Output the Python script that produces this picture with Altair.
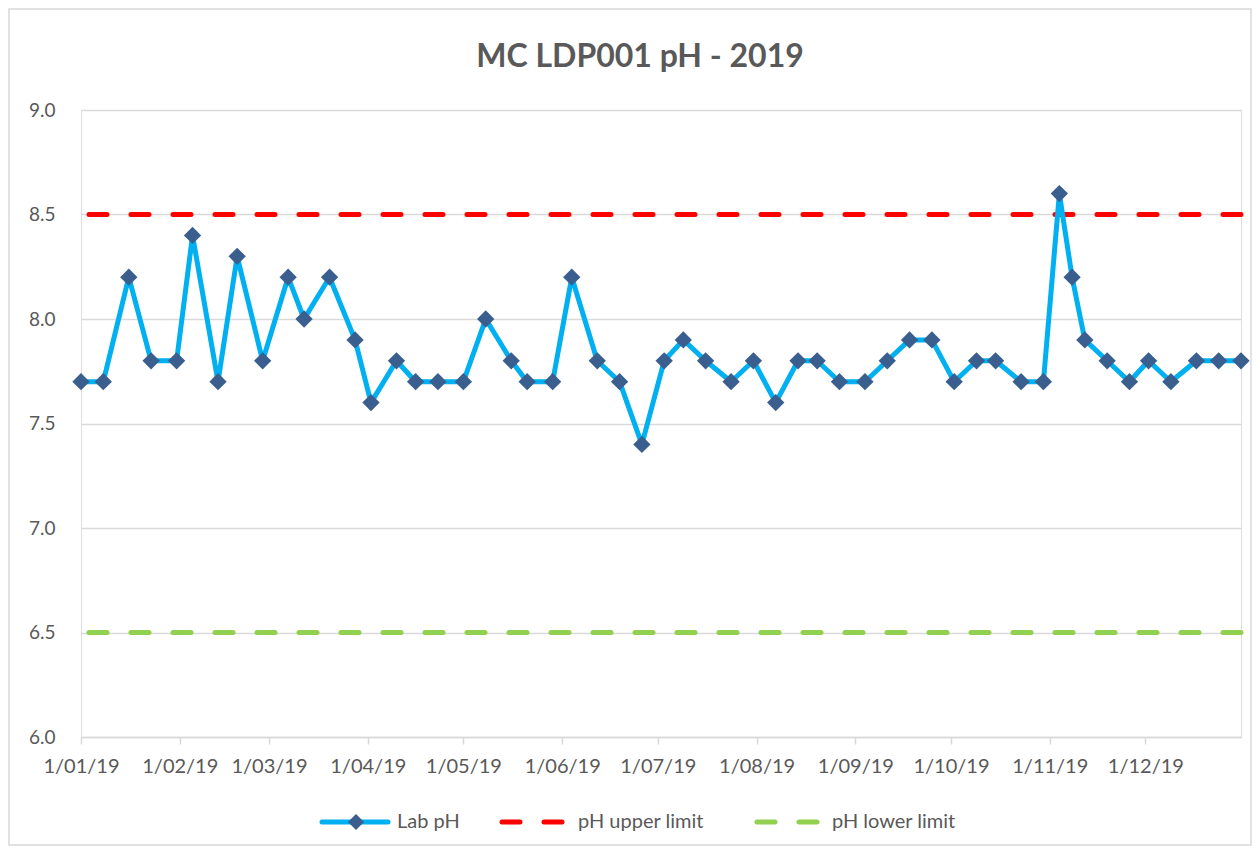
import altair as alt
import pandas as pd

# ---- data ----
sample_dates = [
    "2019-01-01", "2019-01-08", "2019-01-16", "2019-01-23", "2019-01-31",
    "2019-02-05", "2019-02-13", "2019-02-19", "2019-02-27", "2019-03-07",
    "2019-03-12", "2019-03-20", "2019-03-28", "2019-04-02", "2019-04-10",
    "2019-04-16", "2019-04-23", "2019-05-01", "2019-05-08", "2019-05-16",
    "2019-05-21", "2019-05-29", "2019-06-04", "2019-06-12", "2019-06-19",
    "2019-06-26", "2019-07-03", "2019-07-09", "2019-07-16", "2019-07-24",
    "2019-07-31", "2019-08-07", "2019-08-14", "2019-08-20", "2019-08-27",
    "2019-09-04", "2019-09-11", "2019-09-18", "2019-09-25", "2019-10-02",
    "2019-10-09", "2019-10-15", "2019-10-23", "2019-10-30", "2019-11-04",
    "2019-11-08", "2019-11-12", "2019-11-19", "2019-11-26", "2019-12-02",
    "2019-12-09", "2019-12-17", "2019-12-24", "2019-12-31",
]
lab_ph = [
    7.7, 7.7, 8.2, 7.8, 7.8, 8.4, 7.7, 8.3, 7.8, 8.2,
    8.0, 8.2, 7.9, 7.6, 7.8, 7.7, 7.7, 7.7, 8.0, 7.8,
    7.7, 7.7, 8.2, 7.8, 7.7, 7.4, 7.8, 7.9, 7.8, 7.7,
    7.8, 7.6, 7.8, 7.8, 7.7, 7.7, 7.8, 7.9, 7.9, 7.7,
    7.8, 7.8, 7.7, 7.7, 8.6, 8.2, 7.9, 7.8, 7.7, 7.8,
    7.7, 7.8, 7.8, 7.8,
]
upper_limit = [8.5]
lower_limit = [6.5]
series_names = ["Lab pH", "pH upper limit", "pH lower limit"]
y_ticks = [6.0, 6.5, 7.0, 7.5, 8.0, 8.5, 9.0]
x_tick_months = list(range(1, 13))
title_text = ["MC LDP001 pH - 2019"]

# ---- styles ----
BLUE = "#00B0F0"
DIAMOND = "#3A5F8F"
RED = "#FF0000"
GREEN = "#92D050"
GRAY_TEXT = "#595959"
GRID = "#D9D9D9"
FONT = "Lato"

W, H = 1160, 627
PAD_L, PAD_T = 73, 102

df = pd.DataFrame({"date": sample_dates, "ph": lab_ph})
lim_up = pd.DataFrame({"value": upper_limit})
lim_lo = pd.DataFrame({"value": lower_limit})

x_scale = alt.Scale(type="utc", domain=[alt.DateTime(year=2019, month=1, date=1, utc=True),
                                        alt.DateTime(year=2019, month=12, date=31, utc=True)])
y_scale = alt.Scale(domain=[6, 9], nice=False, zero=False)

x_axis = alt.Axis(
    values=[alt.DateTime(year=2019, month=m, date=1, utc=True) for m in x_tick_months],
    labelExpr="utcFormat(datum.value, '%-d/%m/%y')", title=None, grid=False,
    domainColor=GRID, domainWidth=1.5, tickColor=GRID, tickWidth=1.5, tickSize=7,
    labelFontSize=20, labelColor=GRAY_TEXT, labelFont=FONT, labelPadding=12,
    labelFlush=False, labelOverlap=False,
)
y_axis = alt.Axis(
    values=y_ticks, format=".1f", title=None, grid=True, gridColor=GRID, gridWidth=1.5,
    domain=False, ticks=False, labelFontSize=19, labelColor=GRAY_TEXT, labelFont=FONT,
    labelPadding=26,
)

upper = alt.Chart(lim_up).mark_rule(color=RED, strokeWidth=5, strokeDash=[18, 24], strokeCap="round").encode(
    y=alt.Y("value:Q", scale=y_scale, axis=y_axis)
)
lower = alt.Chart(lim_lo).mark_rule(color=GREEN, strokeWidth=5, strokeDash=[18, 24], strokeCap="round").encode(
    y=alt.Y("value:Q", scale=y_scale, axis=y_axis)
)
line = alt.Chart(df).mark_line(color=BLUE, strokeWidth=5, strokeJoin="round").encode(
    x=alt.X("date:T", scale=x_scale, axis=x_axis),
    y=alt.Y("ph:Q", scale=y_scale, axis=y_axis),
)
points = alt.Chart(df).mark_point(shape="diamond", filled=True, color=DIAMOND, size=300, opacity=1).encode(
    x=alt.X("date:T", scale=x_scale, axis=x_axis),
    y=alt.Y("ph:Q", scale=y_scale, axis=y_axis),
)

# ---- manual legend (Excel-style: line + diamond, dashed lines) ----
LY = 712
one = pd.DataFrame({"k": [0]})
leg_lab_line = alt.Chart(one).mark_rule(color=BLUE, strokeWidth=5, strokeCap="round").encode(
    x=alt.value(241), x2=alt.value(307), y=alt.value(LY))
leg_lab_pt = alt.Chart(one).mark_point(shape="diamond", filled=True, color=DIAMOND, size=260, opacity=1).encode(
    x=alt.value(275), y=alt.value(LY))
leg_up = alt.Chart(one).mark_rule(color=RED, strokeWidth=5, strokeDash=[18, 24], strokeCap="round").encode(
    x=alt.value(421), x2=alt.value(482), y=alt.value(LY))
leg_lo = alt.Chart(one).mark_rule(color=GREEN, strokeWidth=5, strokeDash=[18, 24], strokeCap="round").encode(
    x=alt.value(676), x2=alt.value(737), y=alt.value(LY))
leg_text_df = pd.DataFrame({"name": series_names, "i": [0, 1, 2]})
leg_texts = []
for i, xpos in zip(range(3), [316, 497, 751]):
    leg_texts.append(
        alt.Chart(leg_text_df).transform_filter(alt.datum.i == i).mark_text(
            align="left", baseline="middle", fontSize=20, font=FONT, color=GRAY_TEXT
        ).encode(x=alt.value(xpos), y=alt.value(LY), text="name:N")
    )

title = alt.Chart(pd.DataFrame({"t": title_text})).mark_text(
    align="center", baseline="middle", fontSize=32, font=FONT, fontWeight="bold", color=GRAY_TEXT
).encode(x=alt.value(559), y=alt.value(-53), text="t:N")

border = alt.Chart(one).mark_rect(fillOpacity=0, stroke=GRID, strokeWidth=1.5).encode(
    x=alt.value(-PAD_L + 1), x2=alt.value(W + 10), y=alt.value(-PAD_T + 1), y2=alt.value(H + 108)
)

chart = alt.layer(
    border, title, upper, lower, line, points,
    leg_lab_line, leg_lab_pt, leg_up, leg_lo, *leg_texts,
).resolve_scale(x="shared", y="shared").properties(
    width=W, height=H,
    autosize=alt.AutoSizeParams(type="none"),
    padding={"left": PAD_L, "top": PAD_T, "right": 11, "bottom": 110},
).configure_view(stroke=None).configure(background="white")

chart.save("out.html", embed_options={"renderer": "svg", "actions": False})
